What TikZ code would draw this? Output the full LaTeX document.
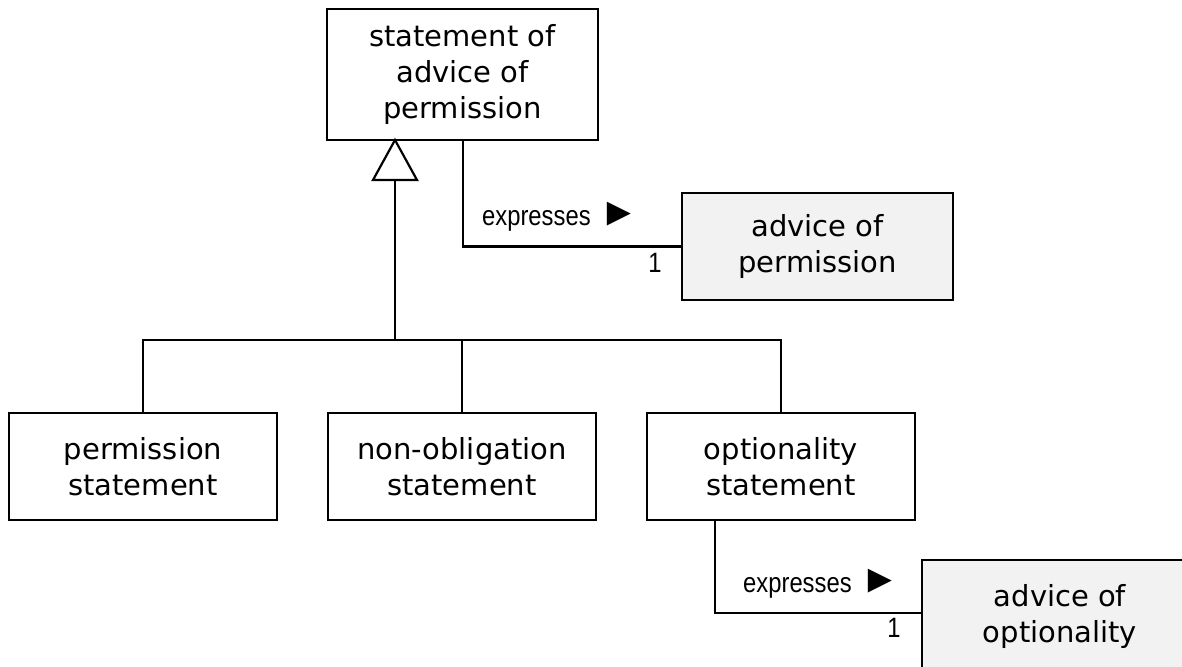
\documentclass[tikz,border=0pt]{standalone}
\usepackage{fontspec}
\setmainfont{DejaVu Sans}
\newfontfamily\narrowfont[FakeStretch=0.85]{Liberation Sans}
\newfontfamily\arrowfont{Liberation Sans}
\usetikzlibrary{calc}
\definecolor{boxgray}{RGB}{242,242,242}
\newcommand{\assocarrow}{\hspace{9pt}{\arrowfont\fontsize{40}{40}\selectfont ►}}
\begin{document}
\begin{tikzpicture}[x=1pt,y=-1pt,
  umlbox/.style={draw, line width=2.4pt, align=center, inner sep=0pt,
    minimum width=268pt, minimum height=107pt,
    font=\fontsize{29}{36}\selectfont},
  graybox/.style={umlbox, fill=boxgray, minimum width=271pt},
  conn/.style={line width=2.2pt},
  lbl/.style={font=\narrowfont\fontsize{28}{30}\selectfont, inner sep=0pt}]
\useasboundingbox (0,0) rectangle (1182,666);
\clip (0,0) rectangle (1182,666);
% nodes
\node[umlbox, minimum width=271pt, minimum height=131pt] (top) at (462.5,74.5) {statement of\\advice of\\permission};
\node[graybox] (advp) at (817.5,246.5) {advice of\\permission};
\node[umlbox] (perm) at (143,466.5) {permission\\statement};
\node[umlbox] (nonobl) at (462,466.5) {non-obligation\\statement};
\node[umlbox] (opt) at (781,466.5) {optionality\\statement};
\node[graybox, minimum width=276pt, minimum height=112pt] (advo) at (1060,616) {advice of\\optionality};
% generalization
\coordinate (apex) at (395,140);
\coordinate (tb) at (395,180);
\coordinate (j) at (395,340);
\draw[conn] (tb) -- (j);
\draw[conn] (perm.north) |- (j) -| (opt.north);
\draw[conn] (nonobl.north) -- (nonobl.north |- j);
\draw[conn, fill=white, line join=miter] (apex) -- ([xshift=-22pt]tb) -- ([xshift=22pt]tb) -- cycle;
% associations
\coordinate (e1) at (463,140);
\coordinate (c1) at (463,246.5);
\draw[conn] (e1) -- (c1) -- (advp.west);
\coordinate (e2) at (715,520);
\coordinate (c2) at (715,613);
\draw[conn] (e2) -- (c2) -- (c2 -| advo.west);
\node[lbl, anchor=base west] (l1) at ($(c1)+(19,-21)$) {expresses\assocarrow};
\node[lbl, anchor=base east] (m1) at ($(advp.west)+(-19,26)$) {1};
\node[lbl, anchor=base west] (l2) at ($(c2)+(28,-21)$) {expresses\assocarrow};
\node[lbl, anchor=base east] (m2) at ($(c2 -| advo.west)+(-20,24)$) {1};
\end{tikzpicture}
\end{document}
